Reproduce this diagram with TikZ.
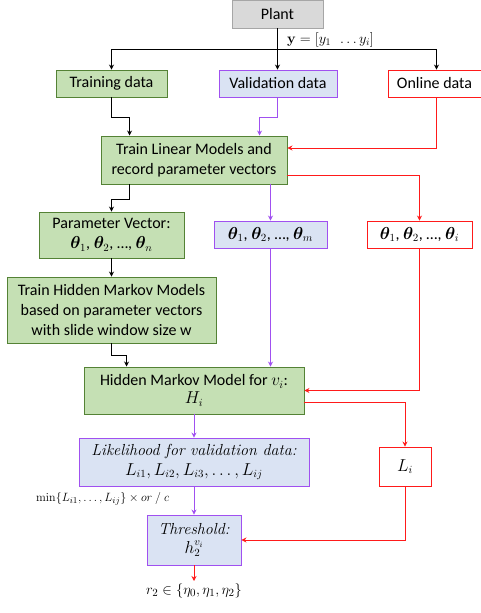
\documentclass[tikz,border=0pt]{standalone}
\usepackage[no-math]{fontspec}
\usepackage{amsmath}
\usepackage{bm}
\setmainfont{Carlito}
\newfontfamily\lmr{Latin Modern Roman}
\usetikzlibrary{arrows.meta,calc}

\definecolor{boxgreen}{HTML}{C5E0B4}
\definecolor{edgegreen}{HTML}{548235}
\definecolor{boxblue}{HTML}{DAE3F3}
\definecolor{edgepurple}{HTML}{A050F0}
\definecolor{boxgray}{HTML}{D9D9D9}
\definecolor{edgegray}{HTML}{A6A6A6}
\definecolor{flowred}{HTML}{FF1A1A}

\tikzset{
  base/.style={rectangle, draw, line width=0.9pt, align=center, inner sep=2pt,
    font=\fontsize{16}{20}\selectfont},
  greenbox/.style={base, fill=boxgreen, draw=edgegreen},
  bluebox/.style={base, fill=boxblue, draw=edgepurple},
  redbox/.style={base, fill=white, draw=flowred},
  graybox/.style={base, fill=boxgray, draw=edgegray},
  conn/.style={line width=0.9pt, -{Stealth[length=5pt,width=5pt]}},
  blackflow/.style={conn, draw=black},
  purpleflow/.style={conn, draw=edgepurple},
  redflow/.style={conn, draw=flowred},
}

\begin{document}
\begin{tikzpicture}[x=1pt,y=-1pt]
\useasboundingbox (0,0) rectangle (481,613);

% boxes
\node[graybox, minimum width=91pt, minimum height=28pt] (plant) at (277.5,14) {Plant};
\node[greenbox, minimum width=111pt, minimum height=27pt] (train) at (111.5,83.5) {Training data};
\node[bluebox, minimum width=118pt, minimum height=27pt] (valid) at (278,83.5) {Validation data};
\node[redbox, minimum width=96pt, minimum height=27pt] (online) at (436,83.5) {Online data\hspace*{3pt}};
\node[greenbox, minimum width=186pt, minimum height=48pt] (linear) at (194,160) {Train Linear Models and\\record parameter vectors};
\node[greenbox, minimum width=145pt, minimum height=46pt] (param) at (111.5,235) {Parameter Vector:\\$\bm{\theta}_1$, $\bm{\theta}_2$, \dots, $\bm{\theta}_n$};
\node[bluebox, minimum width=113pt, minimum height=27pt] (thm) at (270.5,234.5) {$\bm{\theta}_1$, $\bm{\theta}_2$, \dots, $\bm{\theta}_m$};
\node[redbox, minimum width=105pt, minimum height=27pt] (thi) at (419.5,234.5) {$\bm{\theta}_1$, $\bm{\theta}_2$, \dots, $\bm{\theta}_i$};
\node[greenbox, minimum width=209pt, minimum height=66pt] (trainhmm) at (111.5,310) {Train Hidden Markov Models\\based on parameter vectors\\with slide window size w};
\node[greenbox, minimum width=220pt, minimum height=47pt, font=\fontsize{16}{18}\selectfont] (hmm) at (194,390.5) {Hidden Markov Model for $v_i$:\\$H_i$};
\node[bluebox, minimum width=230pt, minimum height=48pt, font=\fontsize{16}{20}\lmr\itshape] (like) at (194,462) {Likelihood for validation data:\\\upshape$L_{i1}, L_{i2}, L_{i3}, \ldots, L_{ij}$};
\node[redbox, minimum width=52pt, minimum height=39pt] (li) at (405,466.5) {$L_i$};
\node[bluebox, minimum width=94pt, minimum height=50pt, font=\fontsize{16}{19}\lmr\itshape] (thr) at (194,540) {Threshold:\\\upshape$h_2^{v_i}$};
\node[anchor=north, inner sep=2pt, font=\fontsize{15.5}{18}\selectfont] (out) at (194,581) {$r_2 \in \{\eta_0, \eta_1, \eta_2\}$};

% labels
\node[anchor=west, inner sep=0pt, font=\fontsize{14.5}{16}\selectfont] (ylab) at (287,40) {$\mathbf{y} = [y_1\ \ \ldots y_i]$};
\node[anchor=west, inner sep=0pt, font=\fontsize{13}{16}\selectfont] (minlab) at (36,499) {$\min\{L_{i1}, \ldots, L_{ij}\} \times or\ /\ c$};

% plant output bus
\coordinate (bus) at ($(plant.south)+(0,21)$);
\draw[blackflow] (plant.south) -- (plant.south |- valid.north);
\draw[blackflow] (bus) -| (train.north);
\draw[blackflow] (bus) -| ($(online.north)+(0.5,0)$);

% data sets into the linear models
\draw[blackflow] (train.south) -- ++(0,20) -| ($(linear.north west)+(29,0)$);
\draw[purpleflow] ($(valid.south)+(-1,0)$) -- ++(0,20) -| ($(linear.north west)+(159,0)$);
\draw[redflow] ($(online.south)+(0.5,0)$) |- ($(linear.east)+(0,-12)$);

% parameter vectors
\draw[blackflow] ($(linear.south west)+(29,0)$) -- ++(0,15) -| (param.north);
\draw[purpleflow] (thm.north |- linear.south) -- (thm.north);
\draw[redflow] ($(linear.east)+(0,15)$) -| (thi.north);

% hidden Markov model
\draw[blackflow] (param.south) -- (trainhmm.north);
\draw[blackflow] (trainhmm.south) -- ++(0,12) -| ($(hmm.north west)+(43,0)$);
\draw[purpleflow] (thm.south) -- (thm.south |- hmm.north);
\draw[redflow] (thi.south) |- (hmm.east);

% likelihoods and threshold
\draw[redflow] ($(hmm.east)+(0,12)$) -| (li.north);
\draw[purpleflow] (hmm.south) -- (like.north);
\draw[purpleflow] (like.south) -- (thr.north);
\draw[redflow] (li.south) |- (thr.east);
\draw[redflow] (thr.south) -- (out.north);
\end{tikzpicture}
\end{document}
